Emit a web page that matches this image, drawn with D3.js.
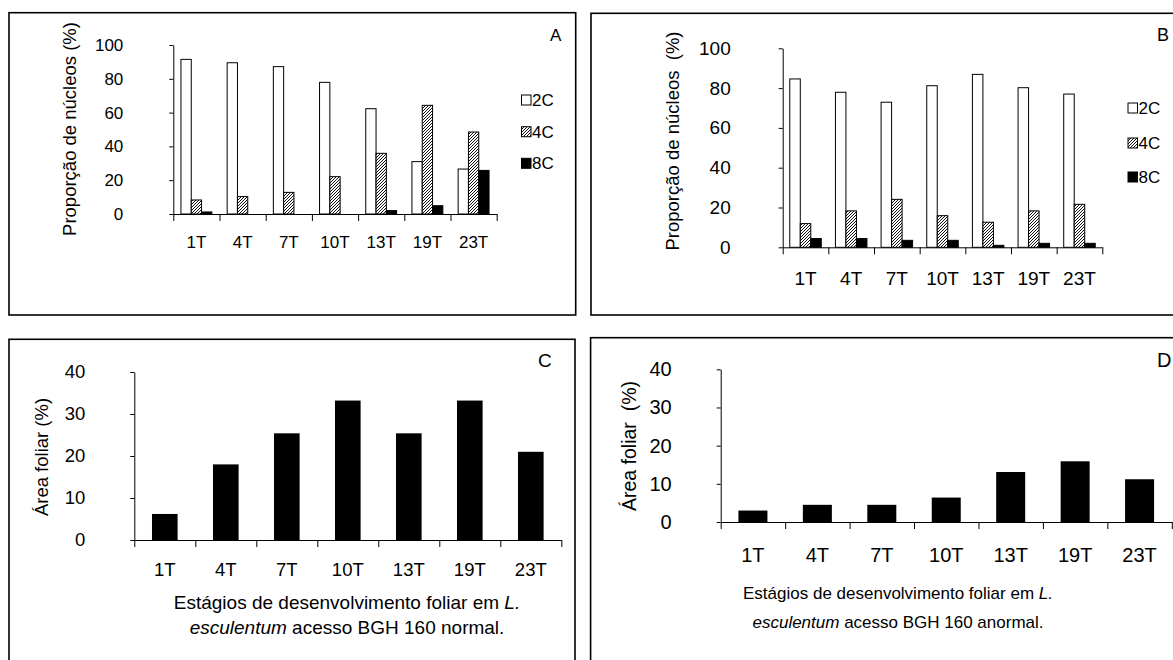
<!DOCTYPE html>
<html>
<head>
<meta charset="utf-8">
<script src="https://cdn.jsdelivr.net/npm/d3@7/dist/d3.min.js"></script>
<style>
  html, body { margin: 0; padding: 0; background: #fff; }
  svg { display: block; font-family: "Liberation Sans", Arial, sans-serif; }
</style>
</head>
<body>
<svg id="chart" width="1173" height="660"></svg>
<script>
// ---------------- data ----------------
const categories = ["1T", "4T", "7T", "10T", "13T", "19T", "23T"];
const seriesNames = ["2C", "4C", "8C"];
// Panel A: nuclei proportion (%)
const a2C = [91.5, 89.5, 87.2, 77.9, 62.3, 31.0, 26.6];
const a4C = [8.3, 10.3, 12.8, 22.1, 35.9, 64.3, 48.5];
const a8C = [1.2, 0, 0, 0, 2.0, 4.9, 25.8];
// Panel B: nuclei proportion (%)
const b2C = [84.6, 77.9, 72.9, 81.2, 86.9, 80.2, 77.0];
const b4C = [11.9, 18.3, 24.1, 15.9, 12.6, 18.3, 21.6];
const b8C = [4.4, 4.4, 3.5, 3.5, 1.0, 2.0, 2.0];
// Panel C / D: leaf area (%)
const cArea = [6.2, 18.0, 25.4, 33.2, 25.4, 33.2, 21.0];
const dArea = [3.0, 4.5, 4.5, 6.4, 13.1, 15.9, 11.2];
// tick labels
const yTicksNuclei = [0, 20, 40, 60, 80, 100];
const yTicksArea = [0, 10, 20, 30, 40];
const yLabelNucA = "Proporção de núcleos (%)";
const yLabelNucB = "Proporção de núcleos \u00A0(%)";
const yLabelArea = "Área foliar (%)";
const yLabelAreaD = "Área foliar \u00A0(%)";

// ---------------- drawing ----------------
const svg = d3.select("#chart");
svg.append("rect").attr("width", 1173).attr("height", 660).attr("fill", "#fff");

const defs = svg.append("defs");
const pat = defs.append("pattern").attr("id", "hatch")
  .attr("patternUnits", "userSpaceOnUse").attr("width", 3).attr("height", 3);
pat.append("rect").attr("width", 3).attr("height", 3).attr("fill", "#fff");
pat.append("path").attr("d", "M-1,1 l2,-2 M0,3 l3,-3 M2,4 l2,-2")
  .attr("stroke", "#111").attr("stroke-width", 1);

const fills = { "2C": "#fff", "4C": "url(#hatch)", "8C": "#000" };

// panel borders
const borders = [
  [9, 12.7, 566.7, 302.3],
  [591, 13.3, 590, 301.7],
  [9, 339.3, 566, 330],
  [590.6, 337.7, 590, 330]
];
svg.selectAll("rect.border").data(borders).join("rect")
  .attr("class", "border")
  .attr("x", d => d[0]).attr("y", d => d[1])
  .attr("width", d => d[2]).attr("height", d => d[3])
  .attr("fill", "none").attr("stroke", "#000").attr("stroke-width", 1.6);

function styleAxis(g) {
  g.select(".domain").attr("stroke", "#000").attr("stroke-width", 1);
  g.selectAll(".tick line").attr("stroke", "#000").attr("stroke-width", 1);
  g.selectAll(".tick text").attr("fill", "#000");
}

function drawPanel(p) {
  const x0 = d3.scaleBand().domain(categories).range([p.left, p.right]).padding(0);
  const xLin = d3.scaleLinear().domain([0, categories.length]).range([p.left, p.right]);
  const y = d3.scaleLinear().domain([0, p.yMax]).range([p.base, p.top]);

  // y axis
  const gy = svg.append("g").attr("transform", `translate(${p.left},0)`)
    .call(d3.axisLeft(y).tickValues(p.yTicks).tickSize(4).tickSizeOuter(0).tickPadding(p.yPad))
    .attr("font-size", p.fs).attr("font-family", null);
  styleAxis(gy);

  // x boundary ticks
  const gx = svg.append("g").attr("transform", `translate(0,${p.base})`)
    .call(d3.axisBottom(xLin).tickValues(d3.range(categories.length + 1)).tickFormat("").tickSize(7).tickSizeOuter(0));
  styleAxis(gx);
  // x labels
  const gxl = svg.append("g").attr("transform", `translate(0,${p.base})`)
    .call(d3.axisBottom(x0).tickSize(0).tickPadding(p.xPad))
    .attr("font-size", p.fs).attr("font-family", null);
  gxl.select(".domain").remove();
  styleAxis(gxl);

  // bars
  if (p.series.length > 1) {
    const bw = x0.bandwidth() * p.barFrac;
    const off = (x0.bandwidth() - bw * p.series.length) / 2;
    const x1 = d3.scaleBand().domain(seriesNames).range([off, off + bw * p.series.length]).padding(0);
    seriesNames.forEach((s, si) => {
      svg.append("g").selectAll("rect")
        .data(p.series[si].map((v, i) => ({ c: categories[i], v })).filter(d => d.v > 0))
        .join("rect")
        .attr("x", d => x0(d.c) + x1(s))
        .attr("y", d => y(d.v))
        .attr("width", x1.bandwidth())
        .attr("height", d => p.base - y(d.v))
        .attr("fill", fills[s]).attr("stroke", "#000").attr("stroke-width", 1);
    });
    // legend
    const lg = svg.append("g");
    seriesNames.forEach((s, i) => {
      const cy = p.legY[i];
      lg.append("rect").attr("x", p.legX).attr("y", cy - 5).attr("width", 9.5).attr("height", 10)
        .attr("fill", fills[s]).attr("stroke", "#000").attr("stroke-width", 1);
      lg.append("text").attr("x", p.legX + 10.5).attr("y", cy).attr("dy", "0.36em")
        .attr("font-size", 17).text(s);
    });
  } else {
    const bw = x0.bandwidth() * p.barFrac;
    svg.append("g").selectAll("rect")
      .data(p.series[0].map((v, i) => ({ c: categories[i], v })))
      .join("rect")
      .attr("x", d => x0(d.c) + (x0.bandwidth() - bw) / 2)
      .attr("y", d => y(d.v))
      .attr("width", bw)
      .attr("height", d => p.base - y(d.v))
      .attr("fill", "#000");
  }

  // y title
  svg.append("text")
    .attr("transform", `translate(${p.yTitleX},${p.yTitleY}) rotate(-90)`)
    .attr("text-anchor", "middle").attr("dy", "0.36em")
    .attr("font-size", p.yTitleFs).style("white-space", "pre")
    .text(p.yTitle);

  // panel letter
  svg.append("text").attr("x", p.letterX).attr("y", p.letterY).attr("dy", "0.36em")
    .attr("text-anchor", "start").attr("font-size", p.letterFs).text(p.letter);

  // x title (two lines)
  if (p.xTitle) {
    const t1 = svg.append("text").attr("x", p.xTitle.x).attr("y", p.xTitle.y1).attr("dy", "0.36em")
      .attr("text-anchor", "middle").attr("font-size", p.xTitle.fs);
    t1.append("tspan").text("Estágios de desenvolvimento foliar em ");
    t1.append("tspan").attr("font-style", "italic").text("L.");
    const t2 = svg.append("text").attr("x", p.xTitle.x).attr("y", p.xTitle.y2).attr("dy", "0.36em")
      .attr("text-anchor", "middle").attr("font-size", p.xTitle.fs);
    t2.append("tspan").attr("font-style", "italic").text("esculentum");
    t2.append("tspan").text(p.xTitle.rest);
  }
}

drawPanel({
  left: 173.3, right: 496.7, base: 214, top: 45, yMax: 100, yTicks: yTicksNuclei,
  series: [a2C, a4C, a8C], barFrac: 0.223, fs: 17, yPad: 46, xPad: 21.7,
  legX: 521.5, legY: [100, 131.7, 163.3],
  yTitle: yLabelNucA, yTitleX: 69, yTitleY: 129, yTitleFs: 18.5,
  letter: "A", letterX: 550, letterY: 35, letterFs: 17
});
drawPanel({
  left: 782.7, right: 1102.3, base: 247.3, top: 48.3, yMax: 100, yTicks: yTicksNuclei,
  series: [b2C, b4C, b8C], barFrac: 0.23, fs: 19, yPad: 48, xPad: 24,
  legX: 1128, legY: [108, 143, 177],
  yTitle: yLabelNucB, yTitleX: 672, yTitleY: 141, yTitleFs: 18.5,
  letter: "B", letterX: 1157, letterY: 35, letterFs: 18
});
drawPanel({
  left: 134.3, right: 561.3, base: 540, top: 372, yMax: 40, yTicks: yTicksArea,
  series: [cArea], barFrac: 0.42, fs: 18.5, yPad: 45, xPad: 22.8,
  yTitle: yLabelArea, yTitleX: 41, yTitleY: 457, yTitleFs: 18.5,
  letter: "C", letterX: 538, letterY: 360, letterFs: 19,
  xTitle: { x: 347, y1: 602, y2: 627, fs: 19, rest: "  acesso BGH 160 normal." }
});
drawPanel({
  left: 720.7, right: 1171.8, base: 522, top: 369.3, yMax: 40, yTicks: yTicksArea,
  series: [dArea], barFrac: 0.45, fs: 20, yPad: 45, xPad: 26,
  yTitle: yLabelAreaD, yTitleX: 629, yTitleY: 446, yTitleFs: 19.5,
  letter: "D", letterX: 1157, letterY: 360, letterFs: 20,
  xTitle: { x: 898, y1: 593, y2: 622, fs: 17, rest: " acesso BGH 160 anormal." }
});
</script>
</body>
</html>
